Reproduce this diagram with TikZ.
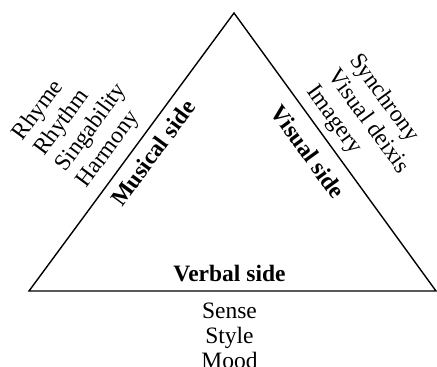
\documentclass[tikz,border=0pt]{standalone}
\usepackage{fontspec}
\setmainfont{Liberation Serif}
\usepackage{tikz}

\begin{document}
\begin{tikzpicture}[x=1pt, y=1pt,
side/.style={inner sep=0pt, font=\fontsize{23.5}{26}\selectfont\bfseries},
items/.style={inner sep=0pt, align=left, font=\fontsize{23.5}{26.5}\selectfont}]
\useasboundingbox (0,0) rectangle (437,367);
\coordinate (A) at (234,354);
\coordinate (B) at (29,76);
\coordinate (C) at (436,76);
\draw[line width=1.4pt, line join=miter] (A) -- (B) -- (C) -- cycle;
\node (M) [side, rotate=53.6] at (153,214) {Musical side};
\node (V) [side, rotate=-54] at (308,215) {Visual side};
\node (W) [side, anchor=base] at (229.5,85) {Verbal side};
\node (MI) [items, rotate=53.6] at (81,247) {Rhyme\\Rhythm\\Singability\\Harmony};
\node (VI) [items, rotate=-54] at (368,245) {Synchrony\\Visual deixis\\Imagery};
\node (WI) [items, align=center, anchor=north, font=\fontsize{23.5}{25}\selectfont] at (229.5,64) {Sense\\Style\\Mood};
\end{tikzpicture}
\end{document}
